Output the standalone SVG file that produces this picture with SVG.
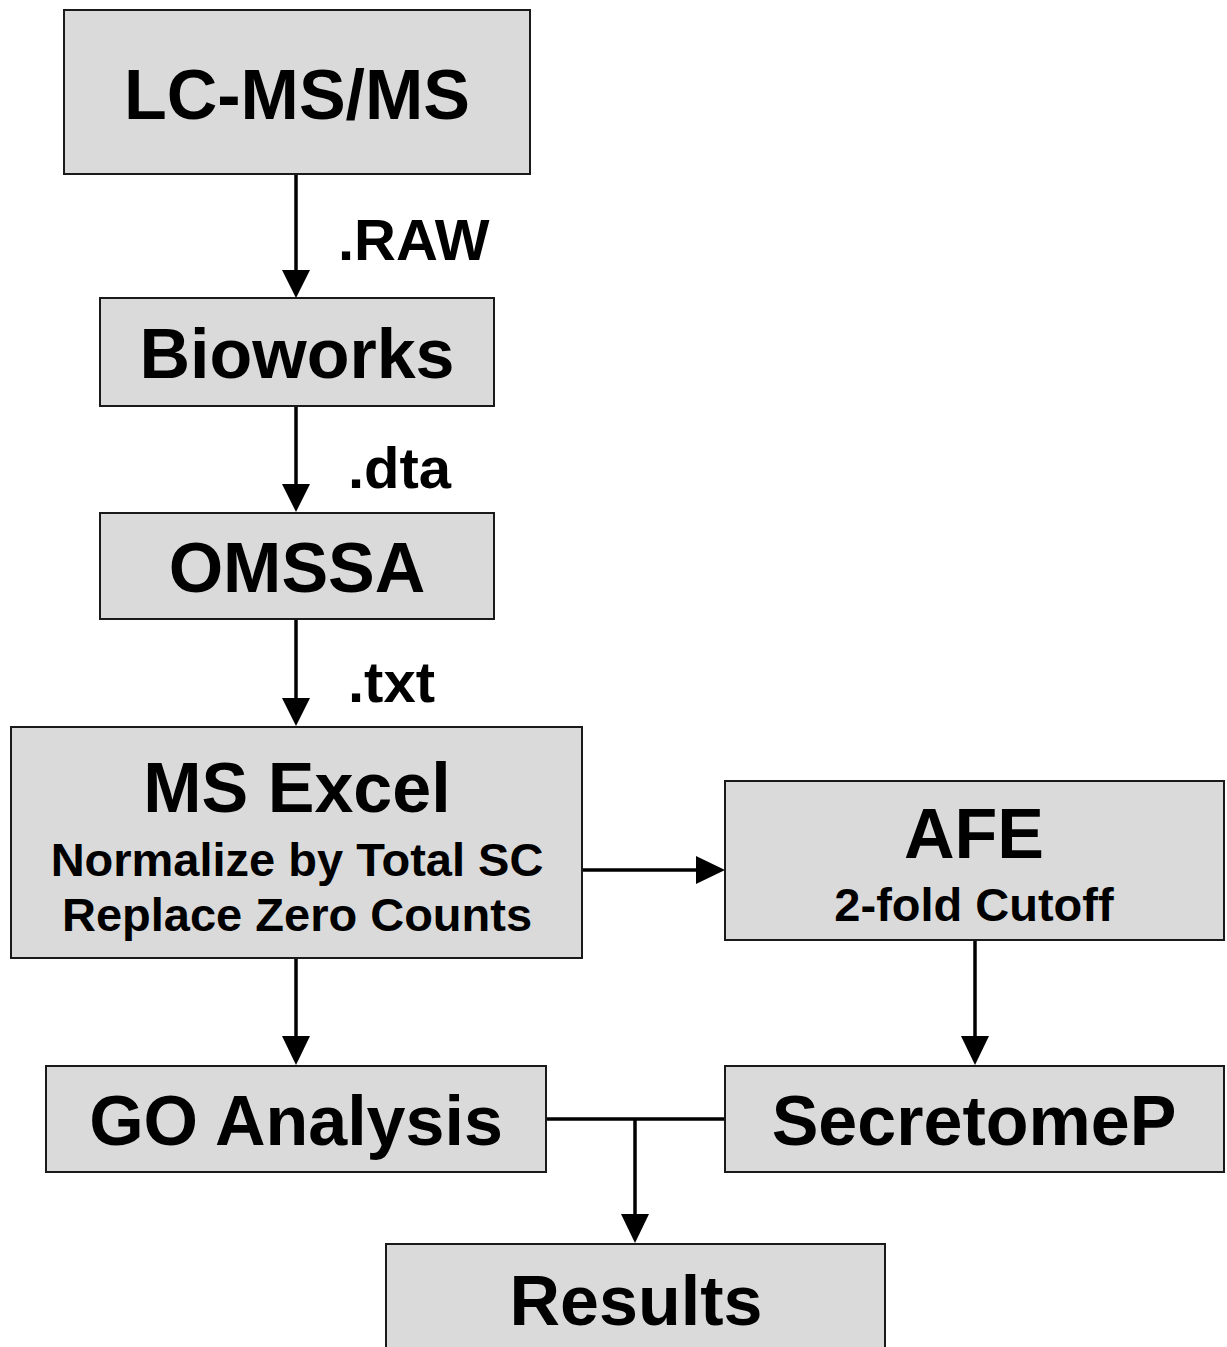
<svg xmlns="http://www.w3.org/2000/svg" width="1227" height="1347" viewBox="0 0 1227 1347">
<style>
.box{fill:#dadada;stroke:#1a1a1a;stroke-width:2}
.t{font-family:"Liberation Sans",Arial,sans-serif;font-weight:bold;fill:#000;text-anchor:middle}
.big{font-size:70px}
.sm{font-size:47px}
.lbl{font-family:"Liberation Sans",Arial,sans-serif;font-weight:bold;fill:#000;font-size:58px}
.ln{stroke:#000;stroke-width:3.5;fill:none}
</style>
<defs>
<marker id="ah" markerWidth="8" markerHeight="8" refX="8" refY="4" orient="auto" markerUnits="userSpaceOnUse" viewBox="0 0 8 8">
<path d="M0,0 L8,4 L0,8 Z" fill="#000"/>
</marker>
</defs>
<rect width="1227" height="1347" fill="#fff"/>
<g id="connectors">
<line class="ln" x1="296" y1="174" x2="296" y2="274"/>
<path d="M282,270 L310,270 L296,298 Z" fill="#000"/>
<line class="ln" x1="296" y1="406" x2="296" y2="488"/>
<path d="M282,484 L310,484 L296,512 Z" fill="#000"/>
<line class="ln" x1="296" y1="619" x2="296" y2="702"/>
<path d="M282,698 L310,698 L296,726 Z" fill="#000"/>
<line class="ln" x1="582" y1="870" x2="700" y2="870"/>
<path d="M696,856 L696,884 L725,870 Z" fill="#000"/>
<line class="ln" x1="296" y1="958" x2="296" y2="1040"/>
<path d="M282,1036 L310,1036 L296,1065 Z" fill="#000"/>
<line class="ln" x1="975" y1="940" x2="975" y2="1040"/>
<path d="M961,1036 L989,1036 L975,1065 Z" fill="#000"/>
<line class="ln" x1="546" y1="1119" x2="725" y2="1119"/>
<line class="ln" x1="635" y1="1119" x2="635" y2="1218"/>
<path d="M621,1214 L649,1214 L635,1243 Z" fill="#000"/>
<text class="lbl" x="338" y="260">.RAW</text>
<text class="lbl" x="348" y="488">.dta</text>
<text class="lbl" x="348" y="702">.txt</text>
</g>
<g id="lcms">
<rect class="box" x="64" y="10" width="466" height="164"/>
<text class="t big" x="297" y="119">LC-MS/MS</text>
</g>
<g id="bioworks">
<rect class="box" x="100" y="298" width="394" height="108"/>
<text class="t big" x="297" y="378">Bioworks</text>
</g>
<g id="omssa">
<rect class="box" x="100" y="513" width="394" height="106"/>
<text class="t big" x="297" y="592">OMSSA</text>
</g>
<g id="excel">
<rect class="box" x="11" y="727" width="571" height="231"/>
<text class="t big" x="297" y="812">MS Excel</text>
<text class="t sm" x="297" y="876">Normalize by Total SC</text>
<text class="t sm" x="297" y="931">Replace Zero Counts</text>
</g>
<g id="afe">
<rect class="box" x="725" y="781" width="499" height="159"/>
<text class="t big" x="974" y="858">AFE</text>
<text class="t sm" x="974" y="921">2-fold Cutoff</text>
</g>
<g id="go">
<rect class="box" x="46" y="1066" width="500" height="106"/>
<text class="t big" x="296" y="1145">GO Analysis</text>
</g>
<g id="secretomep">
<rect class="box" x="725" y="1066" width="499" height="106"/>
<text class="t big" x="974" y="1145">SecretomeP</text>
</g>
<g id="results">
<rect class="box" x="386" y="1244" width="499" height="120"/>
<text class="t big" x="636" y="1325">Results</text>
</g>
</svg>
